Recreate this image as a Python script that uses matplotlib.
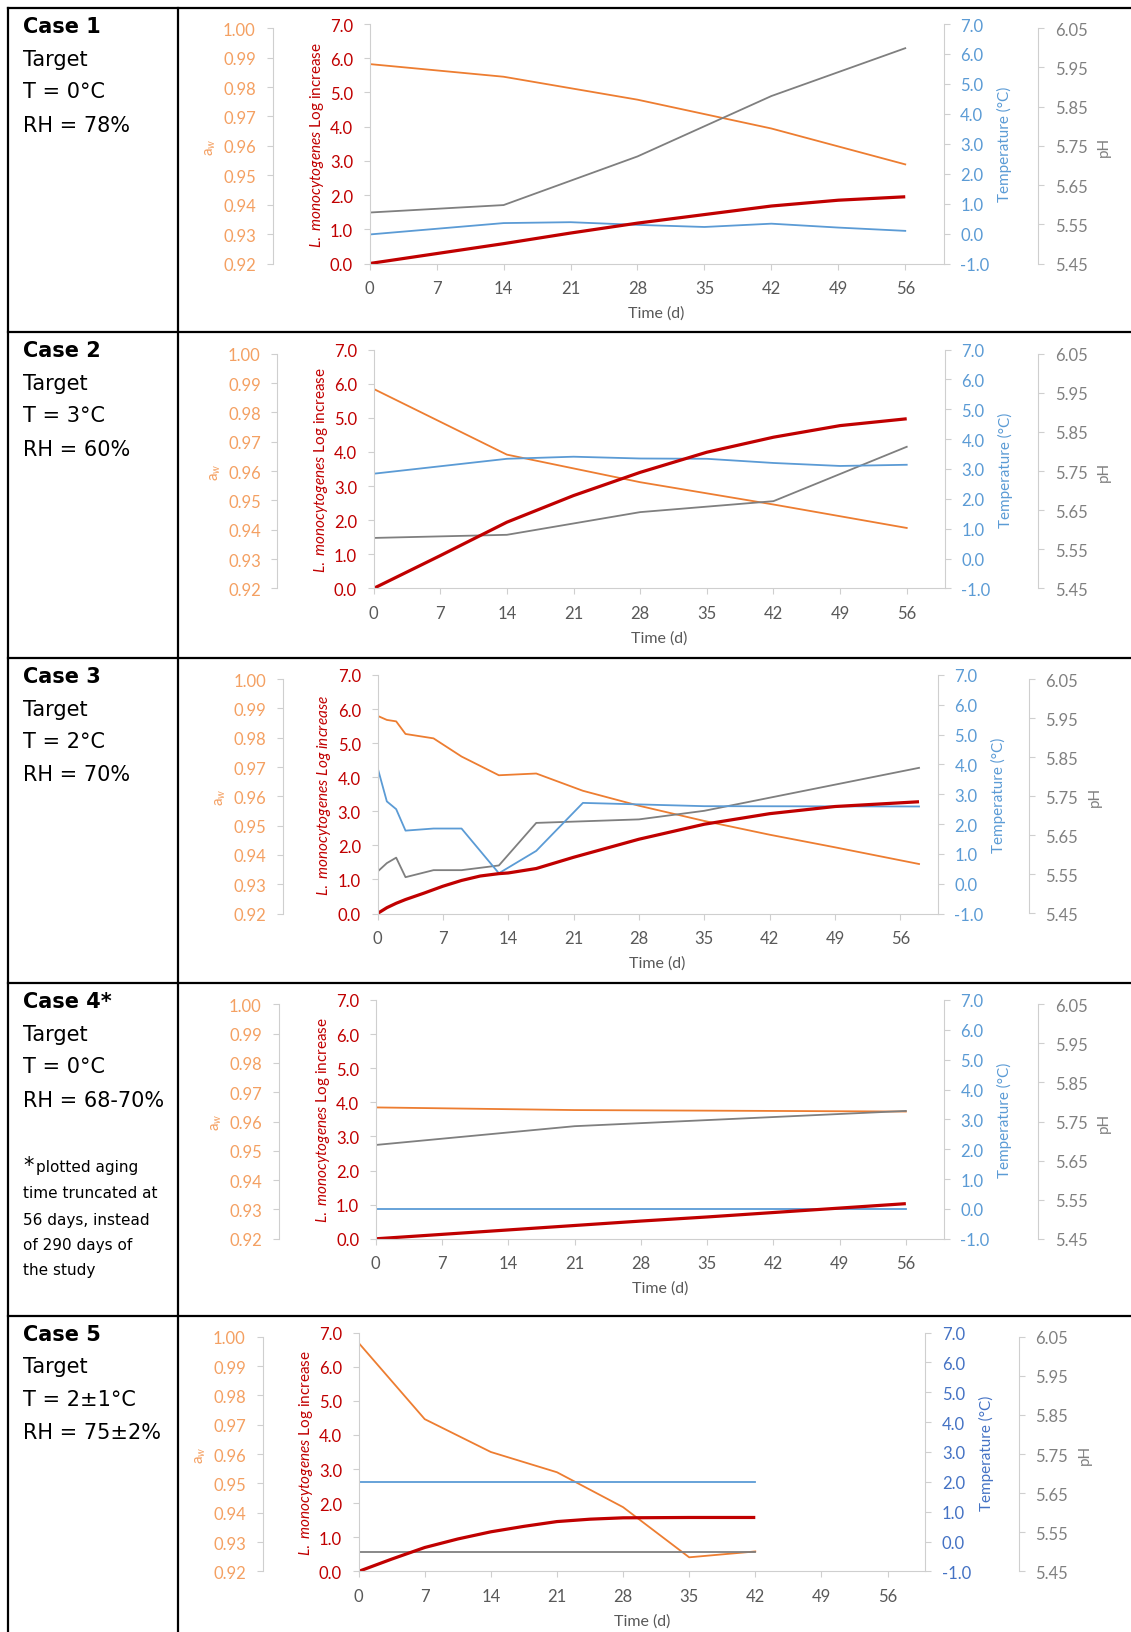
import numpy as np
import matplotlib
matplotlib.use('Agg')
import matplotlib.pyplot as plt
from matplotlib.lines import Line2D

plt.rcParams['font.family'] = ['Lato', 'DejaVu Sans']
plt.rcParams['mathtext.fontset'] = 'custom'
plt.rcParams['mathtext.rm'] = 'Lato'
plt.rcParams['mathtext.it'] = 'Lato:italic'
plt.rcParams['mathtext.bf'] = 'Lato:bold'

# ---------------- data ----------------
day_ticks = [0, 7, 14, 21, 28, 35, 42, 49, 56]
red_ticks = [0, 1, 2, 3, 4, 5, 6, 7]
temp_ticks = [-1, 0, 1, 2, 3, 4, 5, 6, 7]
aw_ticks = [0.92, 0.93, 0.94, 0.95, 0.96, 0.97, 0.98, 0.99, 1.00]
ph_ticks = [5.45, 5.55, 5.65, 5.75, 5.85, 5.95, 6.05]

case_titles = ['Case 1', 'Case 2', 'Case 3', 'Case 4*', 'Case 5']
case_T = ['T = 0°C', 'T = 3°C', 'T = 2°C', 'T = 0°C', 'T = 2±1°C']
case_RH = ['RH = 78%', 'RH = 60%', 'RH = 70%', 'RH = 68-70%', 'RH = 75±2%']
case4_note = ['plotted aging', 'time truncated at', '56 days, instead', 'of 290 days of', 'the study']

# Case 1
c1_red_days = [0, 7, 14, 21, 28, 35, 42, 49, 56]
c1_red = [0.0, 0.29, 0.58, 0.89, 1.18, 1.43, 1.68, 1.85, 1.95]
c1_aw_days = [0, 14, 28, 42, 56]
c1_aw = [0.9878, 0.9835, 0.9757, 0.9659, 0.9537]
c1_temp_days = [0, 14, 21, 28, 35, 42, 49, 56]
c1_temp = [-0.03, 0.35, 0.38, 0.29, 0.22, 0.33, 0.20, 0.09]
c1_ph_days = [0, 14, 28, 42, 56]
c1_ph = [5.580, 5.599, 5.723, 5.877, 5.999]

# Case 2
c2_red_days = [0, 7, 14, 21, 28, 35, 42, 49, 56]
c2_red = [0.0, 0.96, 1.94, 2.72, 3.40, 3.99, 4.43, 4.77, 4.97]
c2_aw_days = [0, 14, 28, 42, 56]
c2_aw = [0.9880, 0.9656, 0.9562, 0.9486, 0.9406]
c2_temp_days = [0, 14, 21, 28, 35, 42, 49, 56]
c2_temp = [2.84, 3.34, 3.41, 3.35, 3.34, 3.20, 3.10, 3.14]
c2_ph_days = [0, 14, 28, 42, 56]
c2_ph = [5.579, 5.587, 5.645, 5.673, 5.812]

# Case 3
c3_red_days = [0, 1, 2, 3, 5, 7, 9, 11, 13, 14, 17, 21, 28, 35, 42, 49, 58]
c3_red = [0.0, 0.17, 0.30, 0.41, 0.60, 0.80, 0.97, 1.10, 1.17, 1.19, 1.32, 1.65, 2.18, 2.62, 2.93, 3.14, 3.28]
c3_aw_days = [0, 1, 2, 3, 6, 9, 13, 17, 22, 28, 35, 42, 49, 58]
c3_aw = [0.9875, 0.9861, 0.9856, 0.9813, 0.9798, 0.9736, 0.9672, 0.9678, 0.9619,
         0.9568, 0.9516, 0.9469, 0.9426, 0.9369]
c3_temp_days = [0, 1, 2, 3, 6, 9, 13, 17, 22, 35, 58]
c3_temp = [3.90, 2.76, 2.50, 1.78, 1.85, 1.85, 0.35, 1.10, 2.71, 2.60, 2.59]
c3_ph_days = [0, 1, 2, 3, 6, 9, 13, 17, 28, 35, 58]
c3_ph = [5.557, 5.579, 5.593, 5.543, 5.561, 5.561, 5.573, 5.682, 5.691, 5.713, 5.823]

# Case 4
c4_red_days = [0, 7, 14, 21, 28, 35, 42, 49, 56]
c4_red = [0.0, 0.13, 0.26, 0.39, 0.52, 0.64, 0.77, 0.90, 1.03]
c4_aw_days = [0, 21, 56]
c4_aw = [0.9648, 0.9639, 0.9634]
c4_temp_days = [0, 56]
c4_temp = [0.0, 0.0]
c4_ph_days = [0, 21, 56]
c4_ph = [5.690, 5.738, 5.777]

# Case 5
c5_red_days = [0, 3.5, 7, 10.5, 14, 17.5, 21, 24.5, 28, 35, 42]
c5_red = [0.0, 0.36, 0.70, 0.95, 1.16, 1.32, 1.46, 1.53, 1.57, 1.58, 1.58]
c5_aw_days = [0, 7, 14, 21, 28, 35, 42]
c5_aw = [0.9979, 0.9719, 0.9607, 0.9538, 0.9419, 0.9248, 0.9268]
c5_temp_days = [0, 42]
c5_temp = [2.0, 2.0]
c5_ph_days = [0, 42]
c5_ph = [5.50, 5.50]

cases = [
    dict(red=(c1_red_days, c1_red), aw=(c1_aw_days, c1_aw), temp=(c1_temp_days, c1_temp), ph=(c1_ph_days, c1_ph)),
    dict(red=(c2_red_days, c2_red), aw=(c2_aw_days, c2_aw), temp=(c2_temp_days, c2_temp), ph=(c2_ph_days, c2_ph)),
    dict(red=(c3_red_days, c3_red), aw=(c3_aw_days, c3_aw), temp=(c3_temp_days, c3_temp), ph=(c3_ph_days, c3_ph)),
    dict(red=(c4_red_days, c4_red), aw=(c4_aw_days, c4_aw), temp=(c4_temp_days, c4_temp), ph=(c4_ph_days, c4_ph)),
    dict(red=(c5_red_days, c5_red), aw=(c5_aw_days, c5_aw), temp=(c5_temp_days, c5_temp), ph=(c5_ph_days, c5_ph)),
]

# ---------------- layout (pixels) ----------------
W, H = 1131, 1633
DPI = 100
layouts = [
    dict(top=25.0, bottom=264.5, red_x=369.7, temp_x=943.5, aw_x=272.5, ph_x=1038.0, allital=False, tcol='#5B9BD5'),
    dict(top=350.5, bottom=589.4, red_x=373.6, temp_x=944.8, aw_x=277.5, ph_x=1038.0, allital=False, tcol='#5B9BD5'),
    dict(top=676.0, bottom=914.5, red_x=377.5, temp_x=937.7, aw_x=283.2, ph_x=1028.8, allital=True, tcol='#5B9BD5'),
    dict(top=1001.0, bottom=1239.8, red_x=375.8, temp_x=943.7, aw_x=278.5, ph_x=1038.0, allital=False, tcol='#5B9BD5'),
    dict(top=1333.5, bottom=1572.4, red_x=358.6, temp_x=925.3, aw_x=262.5, ph_x=1018.8, allital=False, tcol='#4472C4'),
]
row_tops = [9.3, 333.3, 659.0, 984.3, 1316.7]

ORANGE = '#ED7D31'
ORANGE_TXT = '#F4A062'
RED = '#C00000'
RED_TXT = '#C00000'
BLUE = '#5B9BD5'
GRAY = '#7F7F7F'
GRAY_TXT = '#808080'
XTXT = '#595959'
SPINE = '#CFCFCF'
TICKLEN = 4
PAD = 8.0
TSIZE = 12

fig = plt.figure(figsize=(W / DPI, H / DPI), dpi=DPI)
fig.patch.set_facecolor('white')


def ftext(x, y, s, **kw):
    return fig.text(x / W, 1 - y / H, s, **kw)


def build_panel(lay, case):
    left, right, top, bot = lay['red_x'], lay['temp_x'], lay['top'], lay['bottom']
    wpx, hpx = right - left, bot - top
    ax = fig.add_axes([left / W, 1 - bot / H, wpx / W, hpx / H])
    ax_aw = ax.twinx()
    ax_ph = ax.twinx()
    ax_t = ax.twinx()
    for a in (ax, ax_aw, ax_ph, ax_t):
        for s in a.spines.values():
            s.set_visible(False)
        a.patch.set_visible(False)
    ax.set_zorder(10)

    ax.set_xlim(0, 60)
    ax.set_ylim(0, 7)
    ax_t.set_ylim(-1, 7)
    frac = (hpx - 4.2) / hpx
    ax_aw.set_ylim(0.92, 0.92 + 0.08 / frac)
    ax_ph.set_ylim(5.45, 5.45 + 0.60 / frac)

    # main (L. monocytogenes) axis
    ax.spines['left'].set_visible(True)
    ax.spines['left'].set_color(SPINE)
    ax.spines['bottom'].set_visible(True)
    ax.spines['bottom'].set_color(SPINE)
    ax.set_xticks(day_ticks)
    ax.set_xticklabels([str(d) for d in day_ticks])
    ax.tick_params(axis='x', direction='out', length=TICKLEN, width=0.8, color=SPINE,
                   pad=PAD, labelsize=TSIZE, labelcolor=XTXT)
    ax.set_yticks(red_ticks)
    ax.set_yticklabels([f'{v:.1f}' for v in red_ticks])
    ax.tick_params(axis='y', direction='out', length=TICKLEN, width=0.8, color=SPINE,
                   pad=PAD, labelsize=TSIZE, labelcolor=RED_TXT)

    # temperature axis
    ax_t.spines['right'].set_visible(True)
    ax_t.spines['right'].set_color(SPINE)
    ax_t.yaxis.tick_right()
    ax_t.set_yticks(temp_ticks)
    ax_t.set_yticklabels([f'{v:.1f}' for v in temp_ticks])
    ax_t.tick_params(axis='y', direction='out', length=TICKLEN, width=0.8, color=SPINE,
                     pad=PAD, labelsize=TSIZE, labelcolor=lay['tcol'])

    # aw axis
    ax_aw.yaxis.tick_left()
    ax_aw.spines['left'].set_visible(True)
    ax_aw.spines['left'].set_color(SPINE)
    ax_aw.spines['left'].set_position(('axes', (lay['aw_x'] - left) / wpx))
    ax_aw.spines['left'].set_bounds(0.92, 1.00)
    ax_aw.set_yticks(aw_ticks)
    ax_aw.set_yticklabels([f'{v:.2f}' for v in aw_ticks])
    ax_aw.tick_params(axis='y', direction='out', length=TICKLEN, width=0.8, color=SPINE,
                      pad=PAD, labelsize=TSIZE, labelcolor=ORANGE_TXT)

    # pH axis
    ax_ph.yaxis.tick_right()
    ax_ph.spines['right'].set_visible(True)
    ax_ph.spines['right'].set_color(SPINE)
    ax_ph.spines['right'].set_position(('axes', (lay['ph_x'] - left) / wpx))
    ax_ph.spines['right'].set_bounds(5.45, 6.05)
    ax_ph.set_yticks(ph_ticks)
    ax_ph.set_yticklabels([f'{v:.2f}' for v in ph_ticks])
    ax_ph.tick_params(axis='y', direction='out', length=TICKLEN, width=0.8, color=SPINE,
                      pad=PAD, labelsize=TSIZE, labelcolor=GRAY_TXT)

    # series
    ax_aw.plot(*case['aw'], color=ORANGE, lw=1.3)
    ax_ph.plot(*case['ph'], color=GRAY, lw=1.3)
    ax_t.plot(*case['temp'], color=BLUE, lw=1.3)
    ax.plot(*case['red'], color=RED, lw=2.3, solid_capstyle='butt', solid_joinstyle='round')

    # axis titles
    mid = (top + bot) / 2
    mid2 = (top + 4.2 + bot) / 2
    ftext(lay['aw_x'] - 62, mid2, r'a$_w$', rotation=90, ha='center', va='center',
          color=ORANGE_TXT, fontsize=11)
    if lay['allital']:
        lab = r'$\mathit{L.\ monocytogenes\ Log\ increase}$'
    else:
        lab = r'$\mathit{L.\ monocytogenes}$ Log increase'
    ftext(left - 53, mid, lab, rotation=90, ha='center', va='center', color=RED_TXT, fontsize=11)
    ftext(right + 61, mid, 'Temperature (°C)', rotation=90, ha='center', va='center',
          color=lay['tcol'], fontsize=11)
    ftext(lay['ph_x'] + 66, mid2, 'pH', rotation=90, ha='center', va='center',
          color=GRAY_TXT, fontsize=11)
    ftext((left + right) / 2, bot + 49, 'Time (d)', ha='center', va='center',
          color=XTXT, fontsize=11.5)


for lay, case in zip(layouts, cases):
    build_panel(lay, case)

# ---------------- table frame ----------------
BW = 1.6
for y in row_tops:
    fig.add_artist(Line2D([7.5 / W, 1.0], [1 - y / H, 1 - y / H], transform=fig.transFigure,
                          color='black', lw=BW))
for x in (8.3, 178.0):
    fig.add_artist(Line2D([x / W, x / W], [1 - 9.3 / H, 0.0], transform=fig.transFigure,
                          color='black', lw=BW))

# ---------------- left column text ----------------
LFONT = 'DejaVu Sans'
for i, r in enumerate(row_tops):
    ftext(23, r + 24, case_titles[i], fontsize=15, fontweight='bold', family=LFONT,
          va='baseline', ha='left', color='black')
    ftext(23, r + 56.7, 'Target', fontsize=15, family=LFONT, va='baseline', ha='left')
    ftext(23, r + 89.0, case_T[i], fontsize=15, family=LFONT, va='baseline', ha='left')
    ftext(23, r + 122.4, case_RH[i], fontsize=15, family=LFONT, va='baseline', ha='left')

r4 = row_tops[3]
note_offsets = [187.4, 213.7, 240.7, 265.7, 290.7]
ftext(23, r4 + 187.4, '*', fontsize=15, family=LFONT, va='baseline', ha='left')
for k, line in enumerate(case4_note):
    x0 = 35.5 if k == 0 else 23
    ftext(x0, r4 + note_offsets[k], line, fontsize=11, family=LFONT, va='baseline', ha='left')

fig.savefig('out.png', dpi=DPI, facecolor='white')
